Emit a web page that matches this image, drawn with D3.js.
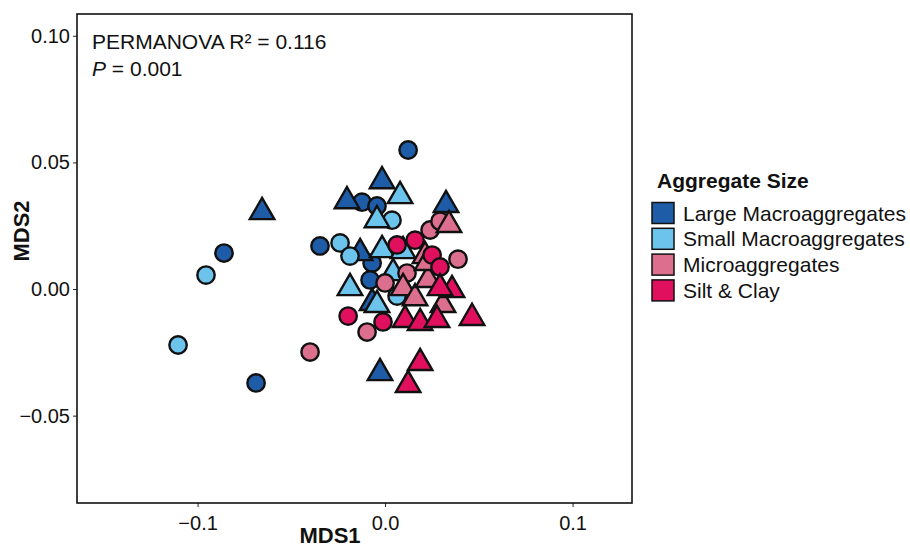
<!DOCTYPE html>
<html>
<head>
<meta charset="utf-8">
<script src="https://cdn.jsdelivr.net/npm/d3@7"></script>
<style>
  html, body { margin: 0; padding: 0; background: #fff; }
  svg { display: block; font-family: "Liberation Sans", Arial, Helvetica, sans-serif; }
</style>
</head>
<body>
<svg id="chart" width="910" height="549"></svg>
<script>
// Aggregate size classes and their fill colours
const groups = ["Large Macroaggregates", "Small Macroaggregates", "Microaggregates", "Silt & Clay"];
const groupColors = ["#1f5ca8", "#6cc3ec", "#dc6f8e", "#e1105e"];

// NMDS ordination scores, one entry per sample
const mds1 = [
  // Large Macroaggregates
   0.0123, -0.0859, -0.0688, -0.0347, -0.0123, -0.0043, -0.0069, -0.0080,
  -0.0656, -0.0203, -0.0016,  0.0325, -0.0133, -0.0027, -0.0069,
  // Small Macroaggregates
  -0.0955, -0.1104, -0.0240, -0.0187,  0.0037,  0.0064,
   0.0080, -0.0043, -0.0016,  0.0096, -0.0187,  0.0043, -0.0043,
  // Microaggregates
  -0.0400, -0.0096,  0.0240,  0.0293,  0.0389,  0.0000,  0.0117,
   0.0341,  0.0213,  0.0096,  0.0160,  0.0229,  0.0309,  0.0224,
  // Silt & Clay
  -0.0197, -0.0011,  0.0160,  0.0064,  0.0251,  0.0293,
   0.0107,  0.0187,  0.0277,  0.0357,  0.0464,  0.0187,  0.0123,  0.0293
];
const mds2 = [
   0.0549,  0.0142, -0.0371,  0.0170,  0.0343,  0.0328,  0.0103,  0.0036,
   0.0304,  0.0347,  0.0426,  0.0332,  0.0142, -0.0332, -0.0055,
   0.0055, -0.0221,  0.0182,  0.0130,  0.0272, -0.0028,
   0.0367,  0.0272,  0.0154,  0.0150,  0.0004,  0.0063, -0.0063,
  -0.0249, -0.0170,  0.0233,  0.0268,  0.0118,  0.0024,  0.0063,
   0.0253,  0.0130,  0.0004, -0.0036,  0.0036, -0.0063,  0.0103,
  -0.0107, -0.0130,  0.0193,  0.0174,  0.0134,  0.0087,
  -0.0122, -0.0134, -0.0122, -0.0004, -0.0114, -0.0292, -0.0379,  0.0004
];
const sampleGroup = [
  0,0,0,0,0,0,0,0, 0,0,0,0,0,0,0,
  1,1,1,1,1,1, 1,1,1,1,1,1,1,
  2,2,2,2,2,2,2, 2,2,2,2,2,2,2,
  3,3,3,3,3,3, 3,3,3,3,3,3,3,3
];
const sampleShape = [
  "circle","circle","circle","circle","circle","circle","circle","circle",
  "triangle","triangle","triangle","triangle","triangle","triangle","triangle",
  "circle","circle","circle","circle","circle","circle",
  "triangle","triangle","triangle","triangle","triangle","triangle","triangle",
  "circle","circle","circle","circle","circle","circle","circle",
  "triangle","triangle","triangle","triangle","triangle","triangle","triangle",
  "circle","circle","circle","circle","circle","circle",
  "triangle","triangle","triangle","triangle","triangle","triangle","triangle","triangle"
];

// Axis tick values
const xTicks = [-0.1, 0.0, 0.1];
const yTicks = [-0.05, 0.00, 0.05, 0.10];

const svg = d3.select("#chart");
svg.append("rect").attr("width", 910).attr("height", 549).attr("fill", "#fff");

const panel = { left: 77, right: 632, top: 14, bottom: 503 };

const x = d3.scaleLinear().domain([-0.1643, 0.1317]).range([panel.left, panel.right]);
const y = d3.scaleLinear().domain([-0.0845, 0.1086]).range([panel.bottom, panel.top]);

// Axes
const fmtMinus = s => s.replace("-", "\u2212");
const xAxis = d3.axisBottom(x).tickValues(xTicks).tickSize(4).tickPadding(4)
  .tickFormat(d => fmtMinus(d3.format(".1f")(d)));
const yAxis = d3.axisLeft(y).tickValues(yTicks).tickSize(4).tickPadding(3)
  .tickFormat(d => fmtMinus(d3.format(".2f")(d)));

const gx = svg.append("g").attr("transform", `translate(0,${panel.bottom})`).call(xAxis);
const gy = svg.append("g").attr("transform", `translate(${panel.left},0)`).call(yAxis);
[gx, gy].forEach(g => {
  g.select(".domain").remove();
  g.selectAll(".tick line").attr("stroke", "#222").attr("stroke-width", 1);
  g.selectAll(".tick text").attr("fill", "#111").style("font-size", "20px")
    .style("font-family", "'Liberation Sans', Arial, sans-serif");
});
gx.selectAll(".tick text").attr("dy", "0.95em");

// Points
const points = d3.range(mds1.length).map(i => ({
  x: mds1[i], y: mds2[i], g: sampleGroup[i], shape: sampleShape[i]
}));
const circleSym = d3.symbol().type(d3.symbolCircle).size(Math.PI * 8.7 * 8.7);
const triSym = d3.symbol().type(d3.symbolTriangle).size(260);

svg.append("g").selectAll("path").data(points).join("path")
  .attr("transform", d => `translate(${x(d.x)},${y(d.y)})`)
  .attr("d", d => d.shape === "circle" ? circleSym() : triSym())
  .attr("fill", d => groupColors[d.g])
  .attr("stroke", "#111")
  .attr("stroke-width", 2.4)
  .attr("stroke-linejoin", "miter");

// Panel frame
svg.append("rect")
  .attr("x", panel.left).attr("y", panel.top)
  .attr("width", panel.right - panel.left).attr("height", panel.bottom - panel.top)
  .attr("fill", "none").attr("stroke", "#111").attr("stroke-width", 1.6);

// PERMANOVA annotation
const ann = svg.append("g").style("font-size", "21px").attr("fill", "#111");
ann.append("text").attr("x", 92).attr("y", 49).text("PERMANOVA R\u00B2 = 0.116");
const pLine = ann.append("text").attr("x", 92).attr("y", 76);
pLine.append("tspan").style("font-style", "italic").text("P");
pLine.append("tspan").text(" = 0.001");

// Axis titles
svg.append("text").attr("x", 330).attr("y", 543).attr("text-anchor", "middle")
  .style("font-size", "22px").style("font-weight", "bold").attr("fill", "#111").text("MDS1");
svg.append("text").attr("transform", "translate(29,231) rotate(-90)").attr("text-anchor", "middle")
  .style("font-size", "22px").style("font-weight", "bold").attr("fill", "#111").text("MDS2");

// Legend
const legend = svg.append("g");
legend.append("text").attr("x", 657).attr("y", 188)
  .style("font-size", "21px").style("font-weight", "bold").attr("fill", "#111").text("Aggregate Size");
const rows = legend.selectAll("g.row").data(groups).join("g")
  .attr("class", "row")
  .attr("transform", (d, i) => `translate(652,${202.5 + i * 25.8})`);
rows.append("rect").attr("width", 22).attr("height", 21)
  .attr("fill", (d, i) => groupColors[i]).attr("stroke", "#111").attr("stroke-width", 1.5);
rows.append("text").attr("x", 31).attr("y", 18)
  .style("font-size", "21px").attr("fill", "#111").text(d => d);
</script>
</body>
</html>
